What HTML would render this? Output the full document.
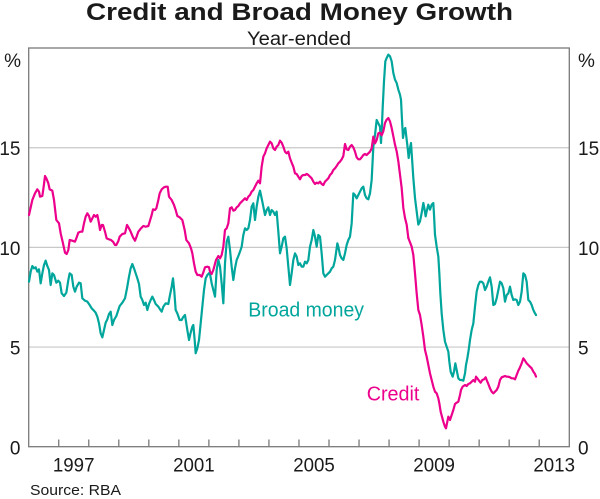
<!DOCTYPE html>
<html>
<head>
<meta charset="utf-8">
<style>
  html, body { margin: 0; padding: 0; background: #ffffff; }
  svg { display: block; }
  text { font-family: "Liberation Sans", Arial, sans-serif; fill: #1a1a1a; }
</style>
</head>
<body>
<svg width="600" height="499" viewBox="0 0 600 499" xmlns="http://www.w3.org/2000/svg">
  <rect x="0" y="0" width="600" height="499" fill="#ffffff"/>

  <!-- Title -->
  <text x="299.5" y="20" font-size="24" font-weight="bold" text-anchor="middle" textLength="427" lengthAdjust="spacingAndGlyphs">Credit and Broad Money Growth</text>
  <text x="299" y="45" font-size="19" text-anchor="middle" textLength="104" lengthAdjust="spacingAndGlyphs">Year-ended</text>

  <!-- Gridlines -->
  <g stroke="#c8c8c8" stroke-width="1.2">
    <line x1="28.7" y1="347.05" x2="569.3" y2="347.05"/>
    <line x1="28.7" y1="247.4" x2="569.3" y2="247.4"/>
    <line x1="28.7" y1="147.75" x2="569.3" y2="147.75"/>
  </g>

  <!-- Frame -->
  <rect x="28.7" y="48" width="540.6" height="398.7" fill="none" stroke="#7a7a7a" stroke-width="1.3"/>

  <!-- X ticks -->
  <g stroke="#7a7a7a" stroke-width="1.3">
    <line x1="58.73" y1="439.5" x2="58.73" y2="446.7"/>
    <line x1="88.76" y1="439.5" x2="88.76" y2="446.7"/>
    <line x1="118.79" y1="439.5" x2="118.79" y2="446.7"/>
    <line x1="148.82" y1="439.5" x2="148.82" y2="446.7"/>
    <line x1="178.85" y1="439.5" x2="178.85" y2="446.7"/>
    <line x1="208.88" y1="439.5" x2="208.88" y2="446.7"/>
    <line x1="238.91" y1="439.5" x2="238.91" y2="446.7"/>
    <line x1="268.94" y1="439.5" x2="268.94" y2="446.7"/>
    <line x1="298.97" y1="439.5" x2="298.97" y2="446.7"/>
    <line x1="329.0" y1="439.5" x2="329.0" y2="446.7"/>
    <line x1="359.03" y1="439.5" x2="359.03" y2="446.7"/>
    <line x1="389.06" y1="439.5" x2="389.06" y2="446.7"/>
    <line x1="419.09" y1="439.5" x2="419.09" y2="446.7"/>
    <line x1="449.12" y1="439.5" x2="449.12" y2="446.7"/>
    <line x1="479.15" y1="439.5" x2="479.15" y2="446.7"/>
    <line x1="509.18" y1="439.5" x2="509.18" y2="446.7"/>
    <line x1="539.21" y1="439.5" x2="539.21" y2="446.7"/>
  </g>

  <!-- Y labels left -->
  <g font-size="19" text-anchor="end">
    <text x="21" y="67">%</text>
    <text x="20.5" y="155">15</text>
    <text x="20.5" y="255">10</text>
    <text x="20.5" y="354.5">5</text>
    <text x="20.5" y="454.5">0</text>
  </g>
  <!-- Y labels right -->
  <g font-size="19" text-anchor="start">
    <text x="578" y="67">%</text>
    <text x="578" y="155">15</text>
    <text x="578" y="255">10</text>
    <text x="578" y="354.5">5</text>
    <text x="578" y="454.5">0</text>
  </g>

  <!-- X labels -->
  <g font-size="19" text-anchor="middle">
    <text x="73.7" y="471.5" textLength="41.6" lengthAdjust="spacingAndGlyphs">1997</text>
    <text x="193.9" y="471.5" textLength="41.6" lengthAdjust="spacingAndGlyphs">2001</text>
    <text x="314.0" y="471.5" textLength="41.6" lengthAdjust="spacingAndGlyphs">2005</text>
    <text x="434.1" y="471.5" textLength="41.6" lengthAdjust="spacingAndGlyphs">2009</text>
    <text x="554.2" y="471.5" textLength="41.6" lengthAdjust="spacingAndGlyphs">2013</text>
  </g>

  <text x="30" y="495" font-size="15" textLength="91" lengthAdjust="spacingAndGlyphs">Source: RBA</text>

  <!-- Broad money (teal) -->
  <g fill="none" stroke="#00a69c" stroke-linejoin="round" stroke-linecap="round">
    <g transform="translate(29,160) scale(0.333333)">
      <polyline vector-effect="non-scaling-stroke" stroke-width="2.2" points="0,365 5,335 10,318 15,325 20,322 25,335 30,328 35,370 40,340 45,315 50,302 55,318 60,330 65,375 70,340 75,345 78,355 82,368 88,362 93,368 98,400 105,408 112,398 118,360 122,340 128,345 133,380 138,395 143,380 150,368 155,370 160,415 168,422 175,425 182,435 188,445 195,452 200,458 205,470 210,490 215,520 220,532 225,510 230,488 235,478 240,462 245,455 250,495 255,480 262,468 268,450 272,438 280,428 288,415 294,385 300,350 305,325 310,312 315,325 320,340 325,355 330,372 335,410 340,420 345,435 350,428 355,450 360,432 365,420 370,410 375,420 380,432 388,440 393,448 398,455 403,440 410,430 418,432 422,410 428,380 432,355 436,395 440,450 445,460 452,480 458,480 462,472 468,465 475,510 480,540 485,518 490,500 493,495 497,540 500,580 505,565 510,540 515,490 520,440 525,390 530,355 535,345 540,340"/>
    </g>
    <g transform="translate(200,120) scale(0.333333)">
      <polyline vector-effect="non-scaling-stroke" stroke-width="2.2" points="27,460 30,462 35,490 40,510 45,530 50,450 55,420 60,440 65,490 70,550 75,430 80,365 85,350 90,390 95,440 100,480 105,445 110,420 115,408 120,395 125,380 130,345 135,325 140,330 145,325 150,300 155,260 160,250 165,300 170,260 175,230 180,212 185,235 190,260 195,285 200,270 205,262 210,285 215,270 220,275 225,285 230,275 235,335 240,400 245,380 250,355 255,350 260,385 265,440 270,495 275,460 280,420 285,400 290,410 295,435 300,430 305,440 310,440 315,425 320,430 325,420 330,380 335,360 340,330 345,350 350,380 355,345 360,350 365,400 370,460 375,470 380,465 385,460 390,455 395,445 400,440 405,420 410,385 412,370 415,380 420,405 425,415 430,420 435,400 440,375 445,360 450,350 455,310 460,220 465,225 470,235 475,225 480,215 485,205 490,200 495,225 500,235 505,238 510,220 515,180 520,80 525,45 530,0 535,10 540,20"/>
    </g>
    <g transform="translate(360,48) scale(0.333333)">
      <polyline vector-effect="non-scaling-stroke" stroke-width="2.2" points="60,236 63,285 65,250 68,180 72,100 76,40 80,30 85,20 90,25 95,40 100,75 105,95 110,105 115,125 120,140 123,155 126,215 129,270 133,245 136,240 140,275 143,300 146,330 150,300 153,285 156,330 160,390 165,450 170,490 175,530 180,520 185,495 190,465 193,480 197,505 200,490 205,470 210,485 215,470 220,465 222,500 225,560"/>
    </g>
    <g transform="translate(380,240) scale(0.333333)">
      <polyline vector-effect="non-scaling-stroke" stroke-width="2.2" points="165,-16 170,20 175,50 178,100 181,160 185,220 190,270 195,305 200,320 205,335 208,365 212,395 218,410 222,395 226,370 230,390 235,415 240,420 245,420 250,422 255,400 258,375 262,355 266,330 270,300 275,270 280,250 285,200 290,155 295,135 300,125 305,125 310,130 315,150 320,140 325,125 330,112 335,140 340,195 345,192 350,175 355,150 360,125 365,130 370,145 375,185 380,165 385,160 390,140 395,165 400,180 405,178 410,180 415,195 420,185 425,155 430,100 435,105 440,125 445,180 450,185 455,195 460,210 465,220 468,225"/>
    </g>
  </g>

  <!-- Credit (magenta) -->
  <g fill="none" stroke="#ec008c" stroke-linejoin="round" stroke-linecap="round">
    <g transform="translate(29,160) scale(0.333333)">
      <polyline vector-effect="non-scaling-stroke" stroke-width="2.2" points="0,165 10,120 18,100 25,88 30,95 33,110 40,108 44,80 48,48 52,55 58,70 62,88 70,92 75,120 82,180 90,190 95,220 102,250 108,278 113,282 118,270 122,240 130,242 138,245 143,232 148,218 155,215 160,215 165,190 170,170 175,160 180,168 185,185 190,175 195,165 200,170 205,165 210,190 213,210 218,195 222,195 228,215 233,235 240,238 246,240 252,245 258,255 262,255 268,243 272,230 280,222 288,220 294,195 300,205 305,215 312,232 318,242 322,232 328,215 336,205 343,198 350,200 358,198 362,185 368,165 372,148 378,150 382,145 388,120 392,100 398,88 405,82 410,80 416,80 420,110 428,120 435,135 440,150 445,168 452,172 460,180 467,210 472,240 480,250 486,265 490,280 495,310 500,335 505,345 512,345 518,350 522,340 528,322 535,320 540,322"/>
    </g>
    <g transform="translate(200,120) scale(0.333333)">
      <polyline vector-effect="non-scaling-stroke" stroke-width="2.2" points="27,442 30,455 35,462 40,450 48,420 55,408 60,415 65,405 70,380 75,330 80,325 85,310 90,265 95,262 100,272 105,270 110,262 115,258 120,250 125,245 130,240 135,235 140,240 145,230 150,225 155,215 160,210 165,200 170,190 175,182 180,190 185,140 190,110 195,100 200,85 205,75 210,65 215,70 220,85 225,90 230,80 235,75 240,62 245,68 250,80 255,95 260,100 265,95 270,115 275,128 280,140 285,160 290,162 295,170 300,178 305,168 310,165 315,165 320,162 325,165 330,170 335,175 340,185 345,192 350,188 355,190 360,185 365,192 370,195 375,185 380,180 385,175 390,165 395,160 400,150 405,145 410,138 415,130 420,125 425,118 430,108 435,72 440,88 445,90 450,80 455,75 460,82 465,95 470,112 475,118 480,118 485,112 490,105 495,102 500,105 505,100 510,95 515,85 520,50 525,70 530,60 535,40 540,38"/>
    </g>
    <g transform="translate(360,48) scale(0.333333)">
      <polyline vector-effect="non-scaling-stroke" stroke-width="2.2" points="60,254 65,262 70,250 75,225 80,215 85,210 90,220 95,240 100,265 105,290 110,310 115,340 120,380 125,420 130,480 135,510 140,530 145,570"/>
    </g>
    <g transform="translate(380,240) scale(0.333333)">
      <polyline vector-effect="non-scaling-stroke" stroke-width="2.2" points="85,-6 95,20 100,45 105,100 110,160 115,210 120,225 125,255 130,290 135,330 140,350 145,375 150,400 155,420 160,440 165,455 170,460 175,475 178,490 182,515 186,530 190,545 195,560 198,565 202,545 205,530 210,540 215,525 220,510 225,492 230,488 235,485 240,465 243,450 248,440 255,435 260,438 265,432 270,430 275,425 280,420 285,425 288,410 292,415 297,422 302,428 307,420 312,418 317,412 320,420 325,432 330,445 335,455 340,460 345,455 350,450 355,440 360,420 365,412 370,410 375,408 380,410 385,410 390,412 395,415 400,415 405,418 410,405 415,392 420,382 425,370 430,355 435,362 440,370 445,375 450,380 455,385 460,395 465,402 468,410"/>
    </g>
  </g>

  <!-- Series labels -->
  <text x="248.3" y="316.5" font-size="20" fill="#00a69c" style="fill:#00a69c" textLength="115.7" lengthAdjust="spacingAndGlyphs">Broad money</text>
  <text x="366.7" y="400.7" font-size="20" fill="#ec008c" style="fill:#ec008c" textLength="52.7" lengthAdjust="spacingAndGlyphs">Credit</text>
</svg>
</body>
</html>
